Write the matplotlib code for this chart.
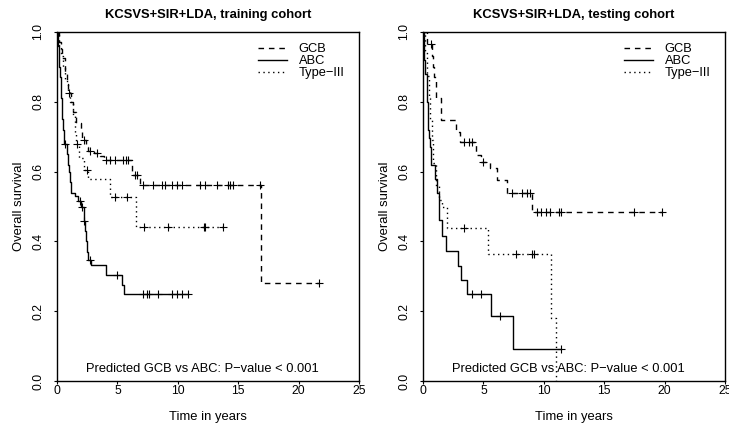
import numpy as np
import matplotlib.pyplot as plt

plt.rcParams['font.family'] = ['Liberation Sans', 'DejaVu Sans']

# ---- training cohort ----
tr_gcb_t = [0, 0.15, 0.3, 0.45, 0.7, 0.85, 0.95, 1.15, 1.35, 1.6, 2.0, 2.1, 2.4, 2.6, 3.1, 3.6, 3.9, 6.2, 6.9, 16.85]
tr_gcb_s = [1.0, 0.97, 0.95, 0.925, 0.88, 0.85, 0.824, 0.80, 0.77, 0.74, 0.714, 0.69, 0.67, 0.659, 0.654, 0.645, 0.633, 0.59, 0.562, 0.28]
tr_gcb_cens = [1.0, 2.23, 2.7, 3.3, 4.06, 4.4, 4.8, 5.5, 5.7, 5.9, 6.46, 6.65, 7.15, 7.98, 8.66, 8.94,
               9.5, 9.91, 10.32, 11.84, 12.25, 13.22, 14.18, 14.32, 14.6, 16.8, 21.7]

tr_abc_t = [0, 0.05, 0.1, 0.15, 0.2, 0.25, 0.3, 0.35, 0.4, 0.45, 0.5, 0.55, 0.6, 0.8, 0.9, 1.0, 1.1, 1.2,
            1.5, 1.75, 2.0, 2.2, 2.3, 2.4, 2.5, 2.6, 2.8, 4.06, 5.35, 5.55]
tr_abc_s = [1.0, 0.98, 0.96, 0.93, 0.9, 0.87, 0.84, 0.81, 0.78, 0.75, 0.72, 0.70, 0.68, 0.65, 0.62, 0.60, 0.57, 0.54,
            0.53, 0.515, 0.50, 0.458, 0.43, 0.40, 0.37, 0.347, 0.332, 0.304, 0.275, 0.25]
tr_abc_cens = [0.66, 1.9, 2.04, 2.26, 2.73, 4.94, 7.14, 7.43, 7.62, 8.39, 9.5, 9.91, 10.32, 10.87]

tr_t3_t = [0, 0.15, 0.3, 0.5, 0.7, 0.9, 1.1, 1.3, 1.5, 1.6, 1.85, 2.2, 2.55, 4.4, 6.5]
tr_t3_s = [1.0, 0.96, 0.93, 0.90, 0.86, 0.83, 0.80, 0.76, 0.71, 0.678, 0.64, 0.605, 0.58, 0.528, 0.44]
tr_t3_cens = [1.68, 2.5, 4.8, 5.77, 7.2, 9.16, 12.19, 12.25, 13.77]

# ---- testing cohort ----
te_gcb_t = [0, 0.3, 0.75, 0.8, 0.9, 1.05, 1.46, 2.7, 3.1, 4.36, 4.83, 5.55, 6.15, 6.98, 9.05]
te_gcb_s = [1.0, 0.966, 0.93, 0.9, 0.87, 0.81, 0.748, 0.714, 0.686, 0.648, 0.628, 0.609, 0.576, 0.538, 0.483]
te_gcb_cens = [0.64, 3.4, 3.8, 4.08, 4.97, 7.39, 8.22, 8.63, 8.86, 9.4, 9.75, 10.15, 10.5, 11.25, 11.45, 17.45, 19.8]

te_abc_t = [0, 0.05, 0.1, 0.2, 0.3, 0.35, 0.4, 0.45, 0.5, 0.55, 0.66, 0.99, 1.2, 1.32, 1.6, 1.88, 2.92, 3.12, 3.62, 5.6, 7.48]
te_abc_s = [1.0, 0.96, 0.92, 0.88, 0.84, 0.8, 0.76, 0.72, 0.695, 0.67, 0.62, 0.58, 0.54, 0.46, 0.416, 0.373, 0.33, 0.289, 0.249, 0.185, 0.092]
te_abc_cens = [4.08, 4.77, 6.37, 11.4]

te_t3_t = [0, 0.2, 0.35, 0.5, 0.6, 0.75, 0.85, 1.05, 1.35, 1.55, 1.95, 5.4, 10.57, 11.0]
te_t3_s = [1.0, 0.94, 0.875, 0.81, 0.75, 0.69, 0.625, 0.56, 0.52, 0.5, 0.437, 0.364, 0.18, 0.0]
te_t3_cens = [3.42, 7.67, 9.05, 9.19]

titles = ['KCSVS+SIR+LDA, training cohort', 'KCSVS+SIR+LDA, testing cohort']
groups = ['GCB', 'ABC', 'Type\u2212III']
styles = [(0, (4, 3.5)), '-', (0, (1, 2.5))]
ptext = 'Predicted GCB vs ABC: P\u2212value < 0.001'


def km_curve(ax, t, s, cens, ls, label):
    t = np.asarray(t, float)
    s = np.asarray(s, float)
    cens = np.asarray(cens, float)
    t_end = max(t[-1], cens.max())
    ax.step(np.append(t, t_end), np.append(s, s[-1]), where='post',
            color='black', lw=1.0, ls=ls, label=label)
    idx = np.searchsorted(t, cens, side='right') - 1
    ax.plot(cens, s[idx], ls='none', marker='+', ms=6, mew=0.8, color='black')


fig = plt.figure(figsize=(7.29, 4.28), dpi=100)
ax1 = fig.add_axes([57 / 729, 1 - 381 / 428, 302 / 729, 349 / 428])
ax2 = fig.add_axes([423 / 729, 1 - 381 / 428, 302 / 729, 349 / 428])

data = [
    [(tr_gcb_t, tr_gcb_s, tr_gcb_cens), (tr_abc_t, tr_abc_s, tr_abc_cens), (tr_t3_t, tr_t3_s, tr_t3_cens)],
    [(te_gcb_t, te_gcb_s, te_gcb_cens), (te_abc_t, te_abc_s, te_abc_cens), (te_t3_t, te_t3_s, te_t3_cens)],
]

for ax, title, curves in zip([ax1, ax2], titles, data):
    for (t, s, c), ls, g in zip(curves, styles, groups):
        km_curve(ax, t, s, c, ls, g)
    ax.set_xlim(0, 25)
    ax.set_ylim(0, 1)
    ax.set_xticks([0, 5, 10, 15, 20, 25])
    ax.set_yticks([0, 0.2, 0.4, 0.6, 0.8, 1.0])
    ax.set_yticklabels(['0.0', '0.2', '0.4', '0.6', '0.8', '1.0'])
    ax.tick_params(axis='x', length=2, width=0.8, pad=1, labelsize=8.7)
    ax.tick_params(axis='y', length=2, width=0.8, pad=7, labelsize=8.7, labelrotation=90)
    for lab in ax.get_yticklabels():
        lab.set_va('center')
    for sp in ax.spines.values():
        sp.set_linewidth(1.0)
    ax.set_title(title, fontsize=9.4, fontweight='bold', pad=10)
    ax.set_xlabel('Time in years', fontsize=9.4)
    ax.set_ylabel('Overall survival', fontsize=9.4)
    ax.xaxis.set_label_coords(0.5, (381 - 417) / 349)
    ax.xaxis.label.set_va('center')
    ax.yaxis.set_label_coords((19 - 57) / 302, 0.5)
    ax.yaxis.label.set_va('center')
    ax.text(12, 0.035, ptext, ha='center', va='center', fontsize=9.3)
    ax.legend(loc='upper left', bbox_to_anchor=(0.666, 0.968), frameon=False, fontsize=9.3,
              handlelength=2.2, handletextpad=0.95, labelspacing=0.0, borderpad=0, borderaxespad=0)

fig.savefig('out.png', dpi=100)
